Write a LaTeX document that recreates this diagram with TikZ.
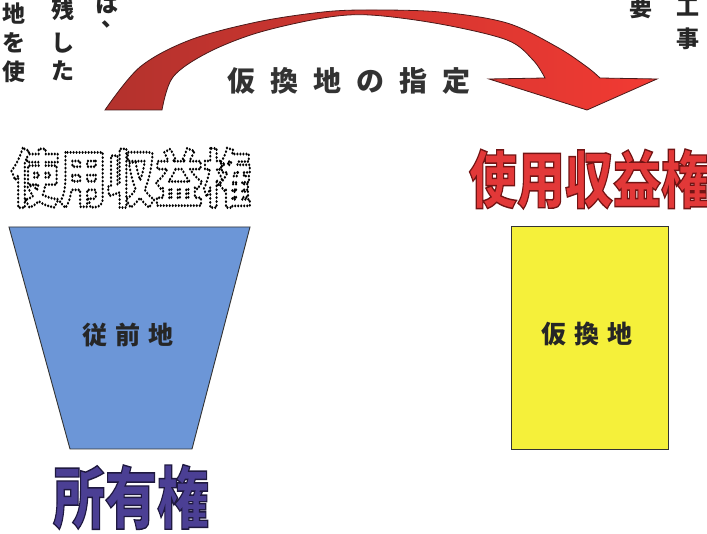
\documentclass[tikz,border=0pt]{standalone}
\usepackage{fontspec}
\usepackage{graphicx}
\newfontfamily\jpfont{Noto Sans CJK JP}
\definecolor{arrowdark}{HTML}{B3322D}
\definecolor{arrowlight}{HTML}{F23A33}
\definecolor{arrowline}{HTML}{4A1A1A}
\definecolor{trapblue}{HTML}{6C96D7}
\definecolor{boxyellow}{HTML}{F5F03A}
\definecolor{redtext}{HTML}{E23838}
\definecolor{purpletext}{HTML}{4B3F94}
\definecolor{graytext}{HTML}{333333}
\newcommand\strokedtext[2]{\special{pdf:literal direct 2 Tr 1.1 w #1 RG}#2\special{pdf:literal direct 0 Tr}}
\newcommand\dottedtext[1]{\special{pdf:literal direct 1 Tr 2.4 w 1 J [0 3] 0 d 0 0 0 RG}#1\special{pdf:literal direct 0 Tr [] 0 d 0 J}}
\tikzset{
  vtext/.style={font=\jpfont\bfseries\fontsize{23}{23}\selectfont, text=black!85, inner sep=0pt},
  boxlabel/.style={font=\jpfont\bfseries\fontsize{25}{25}\selectfont, text=black!85, inner sep=0pt},
  shapeline/.style={draw=black!80, line width=0.9pt},
  bigtitle/.style={inner sep=0pt},
}
\begin{document}
\begin{tikzpicture}[x=1pt,y=-1pt]
\useasboundingbox (0,0) rectangle (707,534);
\fill[white] (0,0) rectangle (707,534);

% vertical body text (cut off at the top)
\node[vtext] (c1a) at (14,14) {地};
\node[vtext] (c1b) at (14,43) {を};
\node[vtext] (c1c) at (14,72) {使};
\node[vtext] (c2a) at (63,10) {残};
\node[vtext] (c2b) at (63,43) {し};
\node[vtext] (c2c) at (63,71) {た};
\node[vtext] (c3a) at (107,4) {は};
\node[vtext] (c3b) at (113,24) {、};
\node[vtext] (r1a) at (641,8) {要};
\node[vtext] (r2a) at (688,7) {工};
\node[vtext] (r2b) at (688,39) {事};

% curved arrow
\path[draw=arrowline, line width=0.8pt, left color=arrowdark, right color=arrowlight]
  (105,110) -- plot[smooth, tension=0.55] coordinates {(105,110) (140,67) (190,40) (257,22) (323,12) (370,10) (440,12) (507,23) (557,47) (587,67) (600,78)}
  -- (657,79) -- (587,110) -- (489,79) -- (545,78)
  -- plot[smooth, tension=0.55] coordinates {(545,78) (533,60) (507,40) (440,24) (370,15) (323,18) (257,33) (207,53) (173,77) (162,110)}
  -- cycle;
\node[font=\jpfont\bfseries\fontsize{28}{28}\selectfont, text=graytext, inner sep=0pt] (shitei) at (349,81)
  {仮\hspace{15pt}換\hspace{15pt}地\hspace{15pt}の\hspace{15pt}指\hspace{15pt}定};

% former land (trapezoid)
\draw[shapeline, fill=trapblue] (9,227) -- (250,227) -- (192,449) -- (70,449) -- cycle;
\node[boxlabel] (juzen) at (128,335) {従\hspace{8pt}前\hspace{8pt}地};

% temporary replotting (yellow box)
\node[shapeline, fill=boxyellow, minimum width=157pt, minimum height=223pt, inner sep=0pt] (kari) at (589.5,337.5) {};
\node[boxlabel] (karilabel) at (587,334) {仮\hspace{8pt}換\hspace{8pt}地};

% titles
\node[bigtitle] (shoyu) at (131,497)
  {\scalebox{1}[1.3]{\jpfont\bfseries\fontsize{52}{52}\selectfont\color{purpletext}\strokedtext{0.12 0.1 0.25}{所有権}}};
\node[bigtitle] (shiyoR) at (589,179)
  {\scalebox{1}[1.3]{\jpfont\bfseries\fontsize{48}{48}\selectfont\color{redtext}\strokedtext{0.45 0.08 0.08}{使用収益権}}};
\node[bigtitle] (shiyoL) at (131,178)
  {\scalebox{1}[1.3]{\jpfont\bfseries\fontsize{48}{48}\selectfont\color{black}\dottedtext{使用収益権}}};
\end{tikzpicture}
\end{document}
